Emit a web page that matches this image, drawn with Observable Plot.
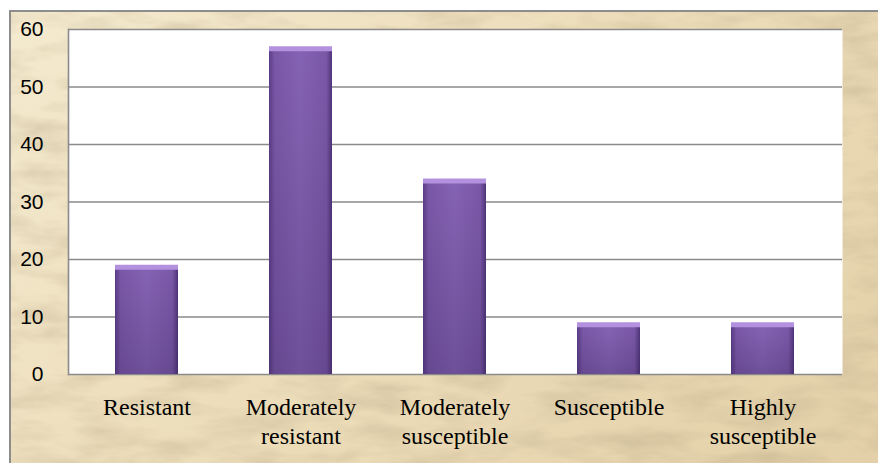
<!DOCTYPE html>
<html>
<head>
<meta charset="utf-8">
<script src="https://cdn.jsdelivr.net/npm/d3@7"></script>
<script src="https://cdn.jsdelivr.net/npm/@observablehq/plot@0.6"></script>
<style>
  html, body { margin: 0; padding: 0; background: #ffffff; }
  #wrap { position: relative; width: 878px; height: 463px; background: #ffffff; overflow: hidden; }
  #bg {
    position: absolute; left: 9px; top: 10px; right: 0; bottom: 0;
    border-left: 2px solid #8d8d8d; border-top: 2px solid #8d8d8d;
    background-color: #ecdcb8;
    background-image:
      url("data:image/svg+xml;utf8,<svg xmlns='http://www.w3.org/2000/svg' width='878' height='463'><filter id='n'><feTurbulence type='fractalNoise' baseFrequency='0.015 0.05' numOctaves='4' seed='3'/><feColorMatrix values='0 0 0 0 0.5  0 0 0 0 0.4  0 0 0 0 0.25  0 0 0 -0.8 0.5'/></filter><rect width='100%' height='100%' filter='url(%23n)'/></svg>"),
      linear-gradient(135deg, #f4eacf 0%, #eddebb 45%, #e3d0a8 100%);
  }
  #chart { position: absolute; left: 0; top: 0; }
</style>
</head>
<body>
<div id="wrap">
  <div id="bg"></div>
  <div id="chart"></div>
</div>
<script>
const categories = ["Resistant", "Moderately resistant", "Moderately susceptible", "Susceptible", "Highly susceptible"];
const tickLabels = ["Resistant", "Moderately\nresistant", "Moderately\nsusceptible", "Susceptible", "Highly\nsusceptible"];
const values = [19, 57, 34, 9, 9];
const yTicks = [0, 10, 20, 30, 40, 50, 60];

const data = categories.map((c, i) => ({category: c, value: values[i]}));

const chart = Plot.plot({
  width: 878,
  height: 463,
  marginLeft: 68,
  marginTop: 29,
  marginRight: 36,
  marginBottom: 89,
  style: {background: "transparent", overflow: "visible"},
  x: {domain: categories, paddingInner: 0.59, paddingOuter: 0.295, label: null},
  y: {domain: [0, 60], label: null},
  marks: [
    Plot.frame({fill: "white", stroke: "none"}),
    Plot.ruleY(yTicks, {stroke: "#8a8a8a", strokeWidth: 1.6}),
    Plot.frame({anchor: "left", stroke: "#8a8a8a", strokeWidth: 1.6}),
    Plot.barY(data, {x: "category", y: "value", fill: "#b391df"}),
    Plot.barY(data, {x: "category", y: "value", fill: "url(#barBody)", insetTop: 5}),
    Plot.barY(data, {x: "category", y: "value", fill: "url(#barShade)", insetTop: 5}),
    Plot.axisY(yTicks, {tickSize: 0, tickPadding: 25, fill: "#000", fontSize: 21, fontFamily: "Liberation Sans"}),
    Plot.axisX({
      tickSize: 0, tickPadding: 20,
      tickFormat: d => tickLabels[categories.indexOf(d)],
      lineHeight: 1.2, fill: "#000", fontSize: 24, fontFamily: "Liberation Serif"
    })
  ]
});

const svg = d3.select(chart);
svg.selectAll("text").each(function() {
  const g = this.closest("g[aria-label]");
  const label = g ? g.getAttribute("aria-label") : "";
  const txt = this.textContent;
  if (label.startsWith("y-axis") || yTicks.map(String).includes(txt)) {
    this.style.fontFamily = "'Liberation Sans', Arial, sans-serif";
    this.style.fontSize = "21px";
  } else if (label.startsWith("x-axis") || tickLabels.some(l => l.replace("\n", "") === txt)) {
    this.style.fontFamily = "'Liberation Serif', 'Times New Roman', serif";
    this.style.fontSize = "24px";
  }
});

const defs = svg.insert("defs", ":first-child");
const g1 = defs.append("linearGradient").attr("id", "barBody").attr("x1", 0).attr("x2", 1).attr("y1", 0).attr("y2", 0);
g1.append("stop").attr("offset", "0%").attr("stop-color", "#5a3d86");
g1.append("stop").attr("offset", "9%").attr("stop-color", "#7a58a8");
g1.append("stop").attr("offset", "50%").attr("stop-color", "#8563b4");
g1.append("stop").attr("offset", "91%").attr("stop-color", "#7a58a8");
g1.append("stop").attr("offset", "100%").attr("stop-color", "#4f3478");
const g2 = defs.append("linearGradient").attr("id", "barShade").attr("x1", 0).attr("x2", 0).attr("y1", 0).attr("y2", 1);
g2.append("stop").attr("offset", "0%").attr("stop-color", "#2a1848").attr("stop-opacity", 0);
g2.append("stop").attr("offset", "100%").attr("stop-color", "#2a1848").attr("stop-opacity", 0.25);

document.getElementById("chart").appendChild(chart);
</script>
</body>
</html>
